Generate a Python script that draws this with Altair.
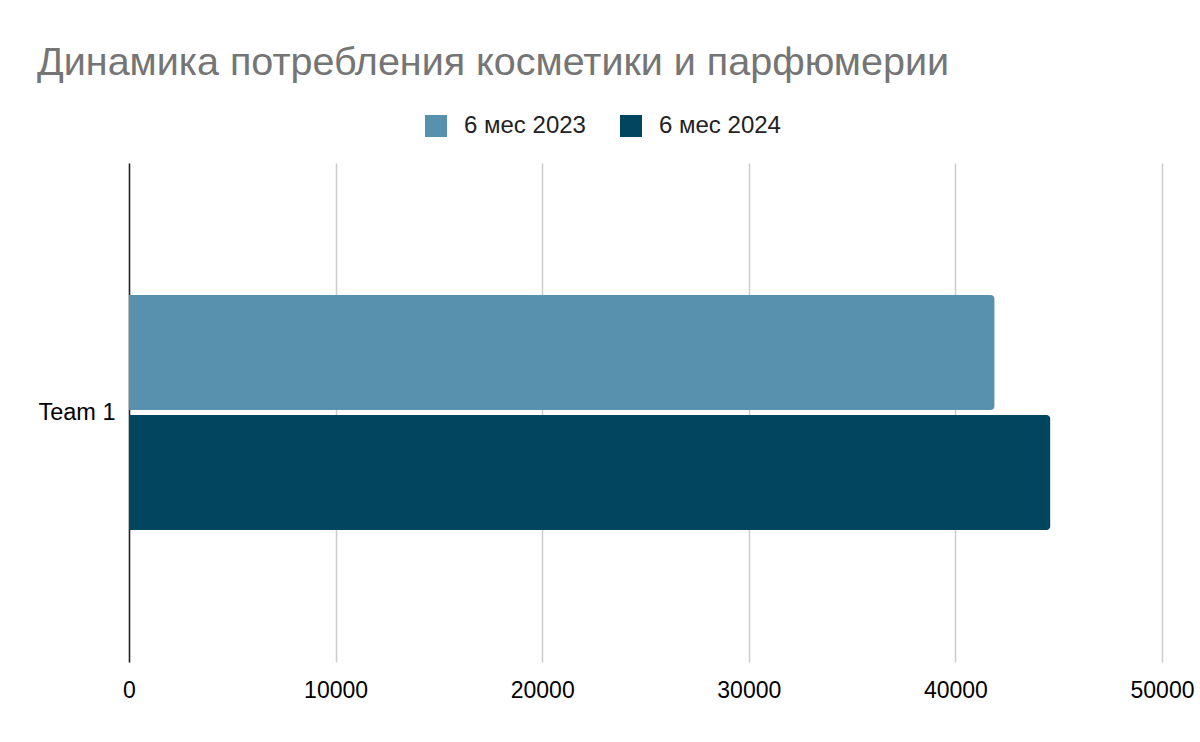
import altair as alt
import pandas as pd

categories = ["Team 1", "Team 1"]
series = ["6 мес 2023", "6 мес 2024"]
values = [41900, 44600]
colors = ["#5891ae", "#01455f"]

df = pd.DataFrame({"cat": categories, "series": series, "value": values})

FONT = "Liberation Sans"

chart = alt.Chart(df).mark_bar(cornerRadiusEnd=4).encode(
    x=alt.X("value:Q",
            scale=alt.Scale(domain=[0, 50000], nice=False),
            axis=alt.Axis(values=[0, 10000, 20000, 30000, 40000, 50000], format="d",
                          title=None, domain=False, ticks=False, grid=True,
                          gridColor="#cccccc", gridWidth=1.5, labelFlush=False,
                          labelFont=FONT, labelFontSize=23, labelColor="#000000",
                          labelPadding=17)),
    y=alt.Y("cat:N",
            scale=alt.Scale(paddingInner=0, paddingOuter=0.5617),
            axis=alt.Axis(title=None, domain=True, domainColor="#222222", domainWidth=1.5,
                          ticks=False, labelFont=FONT, labelFontSize=23.5,
                          labelColor="#000000", labelPadding=14)),
    yOffset=alt.YOffset("series:N", scale=alt.Scale(paddingInner=0.042, paddingOuter=0)),
    color=alt.Color("series:N",
                    scale=alt.Scale(domain=series, range=colors),
                    legend=alt.Legend(orient="none", direction="horizontal", title=None,
                                      legendX=295, legendY=-49,
                                      symbolType="square", symbolSize=484,
                                      symbolStrokeWidth=0,
                                      labelFont=FONT, labelFontSize=24,
                                      labelColor="#222222", columnPadding=33,
                                      labelOffset=16)),
).properties(
    width=1033,
    height=499,
    autosize=alt.AutoSizeParams(type="none"),
    padding={"left": 129, "top": 163, "right": 38, "bottom": 80},
    title=alt.TitleParams("Динамика потребления косметики и парфюмерии",
                          anchor="start", frame="group", dx=-92, dy=-31,
                          font=FONT, fontSize=39.5, fontWeight="normal",
                          color="#757575", baseline="top", offset=0),
).configure(background="white").configure_view(stroke=None)

chart.save("out.html", embed_options={"renderer": "svg", "actions": False})
